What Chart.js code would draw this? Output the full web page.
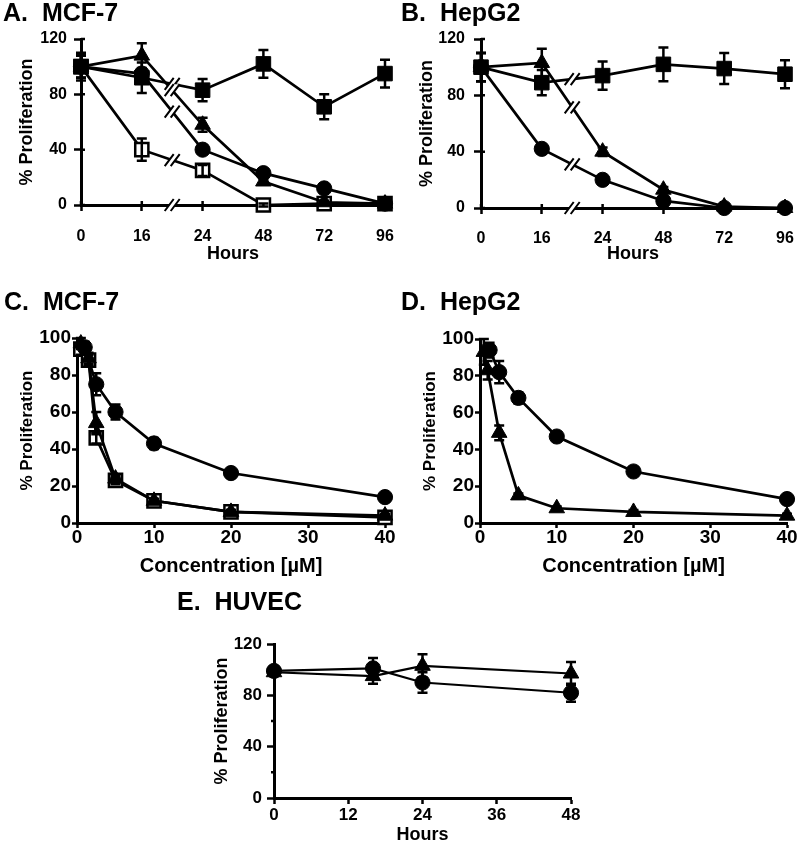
<!DOCTYPE html>
<html><head><meta charset="utf-8">
<script src="https://cdn.jsdelivr.net/npm/chart.js@4.4.0/dist/chart.umd.min.js"></script>
<style>
html,body{margin:0;padding:0;background:#fff;}
#wrap{position:relative;width:800px;height:844px;overflow:hidden;background:#fff;}
canvas{position:absolute;}
</style></head><body>
<div id="wrap">
<canvas id="cA" width="400" height="290" style="left:0px;top:0px"></canvas>
<canvas id="cB" width="400" height="290" style="left:400px;top:0px"></canvas>
<canvas id="cC" width="400" height="300" style="left:0px;top:290px"></canvas>
<canvas id="cD" width="400" height="300" style="left:400px;top:290px"></canvas>
<canvas id="cE" width="440" height="254" style="left:160px;top:590px"></canvas>
</div>
<script>
// ---------- DATA ----------
const hourLabels = ['0', '16', '24', '48', '72', '96'];

// Panel A: MCF-7, time course
const aSquare = [100, 92, 83, 102, 71, 95];
const aSquareErr = [10, 11, 8, 10, 9, 10];
const aTriangle = [100, 108, 58, 17, 2, 1];
const aTriangleErr = [8, 9, 5, 2, 1, 1];
const aCircle = [100, 95, 40, 23, 12, 1];
const aCircleErr = [8, 3, 2, 2, 2, 1];
const aOpenSquare = [100, 40, 25, 0, 1, 1];
const aOpenSquareErr = [8, 8, 4, 1, 1, 1];

// Panel B: HepG2, time course
const bSquare = [100, 89, 94, 102, 99, 95];
const bSquareErr = [10, 9, 10, 12, 11, 10];
const bTriangle = [100, 103, 40, 13, 1, 0];
const bTriangleErr = [10, 10, 3, 2, 1, 1];
const bCircle = [100, 42, 20, 5, 0, 0];
const bCircleErr = [10, 2, 2, 1, 1, 1];

// Panel C: MCF-7, concentration
const cConcCircle = [1, 2.5, 5, 10, 20, 40];
const cCircle = [95, 75, 60, 43, 27, 14];
const cCircleErr = [3, 6, 4, 3, 2, 2];
const cConcTriangle = [0.5, 1.5, 2.5, 5, 10, 20, 40];
const cTriangle = [97, 89, 54, 24, 12, 6, 4];
const cTriangleErr = [3, 3, 6, 2, 1, 1, 1];
const cConcOpenSquare = [0.5, 1.5, 2.5, 5, 10, 20, 40];
const cOpenSquare = [94, 88, 46, 23, 12, 6, 3];
const cOpenSquareErr = [3, 3, 3, 2, 1, 1, 1];

// Panel D: HepG2, concentration
const dConcCircle = [1.25, 2.5, 5, 10, 20, 40];
const dCircle = [94, 82, 68, 47, 28, 13];
const dCircleErr = [4, 6, 3, 2, 2, 2];
const dConcTriangle = [0.5, 1, 2.5, 5, 10, 20, 40];
const dTriangle = [93, 83, 49, 15, 8, 6, 4];
const dTriangleErr = [7, 5, 4, 1, 1, 1, 1];

// Panel E: HUVEC, time course
const eHours = [0, 16, 24, 48];
const eCircle = [99, 101, 90, 82];
const eCircleErr = [3, 8, 8, 7];
const eTriangle = [98, 95, 103, 97];
const eTriangleErr = [3, 6, 9, 9];

// ---------- PLUGINS ----------
const FONT = "'Liberation Sans', Arial, Helvetica, sans-serif";
Chart.defaults.font.family = FONT;
Chart.defaults.color = '#000';

const errorBarPlugin = {
  id: 'errorBars',
  afterDatasetsDraw(chart) {
    const ctx = chart.ctx;
    const ys = chart.scales.y;
    chart.data.datasets.forEach((ds, i) => {
      if (!ds.errorBars) return;
      const meta = chart.getDatasetMeta(i);
      meta.data.forEach((pt, j) => {
        const e = ds.errorBars[j];
        if (!e) return;
        const raw = ds.data[j];
        const val = (raw !== null && typeof raw === 'object') ? raw.y : raw;
        const yt = ys.getPixelForValue(val + e);
        const yb = ys.getPixelForValue(val - e);
        const cap = ds.errorCap || 5;
        ctx.save();
        ctx.strokeStyle = '#000';
        ctx.lineWidth = ds.errorWidth || 2.5;
        ctx.beginPath();
        ctx.moveTo(pt.x, yt); ctx.lineTo(pt.x, yb);
        ctx.moveTo(pt.x - cap, yt); ctx.lineTo(pt.x + cap, yt);
        ctx.moveTo(pt.x - cap, yb); ctx.lineTo(pt.x + cap, yb);
        ctx.stroke();
        ctx.restore();
      });
    });
  }
};

function drawSlashes(ctx, cx, cy) {
  const hw = 4.5, hh = 6, gap = 3;
  ctx.save();
  ctx.fillStyle = '#fff';
  ctx.beginPath();
  ctx.moveTo(cx - gap - hw, cy + hh);
  ctx.lineTo(cx - gap + hw, cy - hh);
  ctx.lineTo(cx + gap + hw, cy - hh);
  ctx.lineTo(cx + gap - hw, cy + hh);
  ctx.closePath();
  ctx.fill();
  ctx.strokeStyle = '#000';
  ctx.lineWidth = 2;
  ctx.beginPath();
  ctx.moveTo(cx - gap - hw, cy + hh); ctx.lineTo(cx - gap + hw, cy - hh);
  ctx.moveTo(cx + gap - hw, cy + hh); ctx.lineTo(cx + gap + hw, cy - hh);
  ctx.stroke();
  ctx.restore();
}

const breakPlugin = {
  id: 'axisBreaks',
  afterDraw(chart, args, opts) {
    if (!opts || !opts.enabled) return;
    const ctx = chart.ctx;
    const xs = chart.scales.x;
    const bx = (xs.getPixelForValue(opts.from) + xs.getPixelForValue(opts.to)) / 2;
    drawSlashes(ctx, bx, chart.chartArea.bottom);
    chart.data.datasets.forEach((ds, i) => {
      const meta = chart.getDatasetMeta(i);
      const p1 = meta.data[opts.from], p2 = meta.data[opts.to];
      if (!p1 || !p2) return;
      drawSlashes(ctx, (p1.x + p2.x) / 2, (p1.y + p2.y) / 2);
    });
  }
};

// short inner tick stubs (ticks crossing the axis) and short minor ticks
const tickExtrasPlugin = {
  id: 'tickExtras',
  beforeDatasetsDraw(chart, args, opts) {
    if (!opts || !opts.enabled) return;
    const ctx = chart.ctx;
    const area = chart.chartArea;
    ctx.save();
    ctx.strokeStyle = '#000';
    ctx.lineWidth = 2.5;
    ctx.beginPath();
    const xs = chart.scales.x, ys = chart.scales.y;
    if (opts.inner) {
      xs.ticks.forEach((t, i) => {
        const px = xs.getPixelForTick(i);
        ctx.moveTo(px, area.bottom); ctx.lineTo(px, area.bottom - opts.inner);
      });
      ys.ticks.forEach((t, i) => {
        const py = ys.getPixelForTick(i);
        ctx.moveTo(area.left, py); ctx.lineTo(area.left + opts.inner, py);
      });
    }
    if (opts.minorEvery) {
      ys.ticks.forEach((t, i) => {
        if (t.value % opts.minorEvery !== 0) {
          const py = ys.getPixelForTick(i);
          ctx.moveTo(area.left, py); ctx.lineTo(area.left - opts.minorLen, py);
        }
      });
    }
    ctx.stroke();
    ctx.restore();
  }
};
Chart.register(errorBarPlugin, breakPlugin, tickExtrasPlugin);

// ---------- HELPERS ----------
const MARK = {
  square: { pointStyle: 'rect', pointRadius: 10.3, pointBackgroundColor: '#000', pointBorderColor: '#000', pointBorderWidth: 1 },
  triangle: { pointStyle: 'triangle', pointRadius: 9, pointBackgroundColor: '#000', pointBorderColor: '#000', pointBorderWidth: 1 },
  circle: { pointStyle: 'circle', pointRadius: 7.6, pointBackgroundColor: '#000', pointBorderColor: '#000', pointBorderWidth: 1 },
  openSquare: { pointStyle: 'rect', pointRadius: 9.3, pointBackgroundColor: '#fff', pointBorderColor: '#000', pointBorderWidth: 2.5 }
};

function series(label, data, errs, mark, lw, xs) {
  const d = xs ? data.map((v, i) => ({ x: xs[i], y: v })) : data;
  return Object.assign({
    label: label,
    data: d,
    errorBars: errs,
    borderColor: '#000',
    borderWidth: lw,
    tension: 0,
    fill: false,
    clip: false,
    pointHoverRadius: 0
  }, MARK[mark]);
}

function axisCommon(tickLen, tickPad, fontSize) {
  return {
    border: { display: true, color: '#000', width: 3 },
    grid: { display: true, drawOnChartArea: false, drawTicks: true, tickLength: tickLen, tickWidth: 2.5, tickColor: '#000', color: '#000' },
    ticks: { padding: tickPad, color: '#000', font: { size: fontSize, weight: 'bold', lineHeight: 1 } }
  };
}

function build(id, p, datasets, xScale, yScale) {
  const x = Object.assign(axisCommon(p.xTickLen, p.xTickPad, p.xTickFont), xScale);
  x.ticks = Object.assign(x.ticks, xScale.ticksExtra || {});
  delete x.ticksExtra;
  x.title = { display: true, text: p.xTitle, color: '#000', font: { size: p.xTitleFont, weight: 'bold', lineHeight: 1 }, padding: { top: 0, bottom: p.xTitlePb } };
  x.afterFit = (s) => { s.height = p.xH; s.paddingLeft = 0; s.paddingRight = 0; };
  const y = Object.assign(axisCommon(p.yTickLen, p.yTickPad, p.yTickFont), yScale);
  y.ticks = Object.assign(y.ticks, yScale.ticksExtra || {});
  delete y.ticksExtra;
  if (yScale.gridExtra) { y.grid = Object.assign(y.grid, yScale.gridExtra); delete y.gridExtra; }
  y.title = { display: true, text: '% Proliferation', color: '#000', font: { size: p.yTitleFont, weight: 'bold', lineHeight: 1 }, padding: { top: p.yTitlePt, bottom: 0 } };
  y.afterFit = (s) => { s.width = p.yW; s.paddingTop = 0; s.paddingBottom = 0; };
  return new Chart(document.getElementById(id), {
    type: 'line',
    data: { labels: p.labels, datasets: datasets },
    options: {
      responsive: false,
      animation: false,
      devicePixelRatio: 1,
      layout: { padding: { left: p.padL, right: p.padR, top: 0, bottom: p.padB } },
      scales: { x: x, y: y },
      plugins: {
        legend: { display: false },
        tooltip: { enabled: false },
        title: { display: true, text: p.title, align: 'start', color: '#000', font: { size: 25, weight: 'bold', lineHeight: 1 }, padding: { top: p.tPadTop, bottom: p.tPadBottom } },
        axisBreaks: p.breaks || { enabled: false },
        tickExtras: p.tickExtras || { enabled: false }
      }
    }
  });
}

// ---------- PANEL A ----------
build('cA', {
  title: 'A.  MCF-7', labels: hourLabels, xTitle: 'Hours',
  padL: 3, padR: 15, padB: 25, yW: 78, xH: 60, tPadTop: 1.5, tPadBottom: 12.5,
  xTickLen: 6, xTickPad: 18, xTickFont: 16, xTitleFont: 18, xTitlePb: 2,
  yTickLen: 7, yTickPad: 7, yTickFont: 16, yTitleFont: 18, yTitlePt: 15,
  breaks: { enabled: true, from: 1, to: 2 },
  tickExtras: { enabled: true, inner: 4 }
}, [
  series('Control', aSquare, aSquareErr, 'square', 2.7),
  series('Triangle', aTriangle, aTriangleErr, 'triangle', 2.7),
  series('Circle', aCircle, aCircleErr, 'circle', 2.7),
  series('Open square', aOpenSquare, aOpenSquareErr, 'openSquare', 2.7)
], { type: 'category', offset: false }, { type: 'linear', min: 0, max: 120, ticksExtra: { stepSize: 40 } });

// ---------- PANEL B ----------
build('cB', {
  title: 'B.  HepG2', labels: hourLabels, xTitle: 'Hours',
  padL: 1, padR: 15, padB: 22, yW: 80, xH: 60, tPadTop: 1.5, tPadBottom: 12.5,
  xTickLen: 6, xTickPad: 17, xTickFont: 16, xTitleFont: 18, xTitlePb: 5,
  yTickLen: 7, yTickPad: 9, yTickFont: 16, yTitleFont: 18, yTitlePt: 17,
  breaks: { enabled: true, from: 1, to: 2 },
  tickExtras: { enabled: true, inner: 4 }
}, [
  series('Control', bSquare, bSquareErr, 'square', 2.7),
  series('Triangle', bTriangle, bTriangleErr, 'triangle', 2.7),
  series('Circle', bCircle, bCircleErr, 'circle', 2.7)
], { type: 'category', offset: false }, { type: 'linear', min: 0, max: 120, ticksExtra: { stepSize: 40 } });

// ---------- PANEL C ----------
build('cC', {
  title: 'C.  MCF-7', xTitle: 'Concentration [\u00B5M]',
  padL: 4, padR: 15, padB: 7, yW: 73, xH: 60, tPadTop: 0.5, tPadBottom: 22.5,
  xTickLen: 5, xTickPad: 0, xTickFont: 19, xTitleFont: 20, xTitlePb: 7,
  yTickLen: 5, yTickPad: 1, yTickFont: 19, yTitleFont: 17, yTitlePt: 14.5
}, [
  series('Circle', cCircle, cCircleErr, 'circle', 2.7, cConcCircle),
  series('Triangle', cTriangle, cTriangleErr, 'triangle', 2.7, cConcTriangle),
  series('Open square', cOpenSquare, cOpenSquareErr, 'openSquare', 2.7, cConcOpenSquare)
], { type: 'linear', min: 0, max: 40, ticksExtra: { stepSize: 10 } }, { type: 'linear', min: 0, max: 100, ticksExtra: { stepSize: 20 } });

// ---------- PANEL D ----------
build('cD', {
  title: 'D.  HepG2', xTitle: 'Concentration [\u00B5M]',
  padL: 1, padR: 13, padB: 7, yW: 79, xH: 60, tPadTop: 0.5, tPadBottom: 23.5,
  xTickLen: 5, xTickPad: 0, xTickFont: 19, xTitleFont: 20, xTitlePb: 7,
  yTickLen: 5, yTickPad: 1, yTickFont: 19, yTitleFont: 17, yTitlePt: 20.5
}, [
  series('Circle', dCircle, dCircleErr, 'circle', 2.7, dConcCircle),
  series('Triangle', dTriangle, dTriangleErr, 'triangle', 2.7, dConcTriangle)
], { type: 'linear', min: 0, max: 40, ticksExtra: { stepSize: 10 } }, { type: 'linear', min: 0, max: 100, ticksExtra: { stepSize: 20 } });

// ---------- PANEL E ----------
build('cE', {
  title: 'E.  HUVEC', xTitle: 'Hours',
  padL: 17, padR: 29, padB: 0, yW: 97, xH: 46, tPadTop: 0.5, tPadBottom: 28.5,
  xTickLen: 6, xTickPad: 2.5, xTickFont: 17, xTitleFont: 18, xTitlePb: 0,
  yTickLen: 7, yTickPad: 5, yTickFont: 17, yTitleFont: 18, yTitlePt: 36,
  tickExtras: { enabled: true, minorEvery: 40, minorLen: 3 }
}, [
  series('Circle', eCircle, eCircleErr, 'circle', 2.2, eHours),
  series('Triangle', eTriangle, eTriangleErr, 'triangle', 2.2, eHours)
], { type: 'linear', min: 0, max: 48, ticksExtra: { stepSize: 12 } },
   { type: 'linear', min: 0, max: 120,
     ticksExtra: { stepSize: 20, callback: (v) => (v % 40 === 0 ? String(v) : '') },
     gridExtra: { tickColor: (c) => (c.tick && c.tick.value % 40 === 0 ? '#000' : 'rgba(0,0,0,0)') } });
</script>
</body></html>
